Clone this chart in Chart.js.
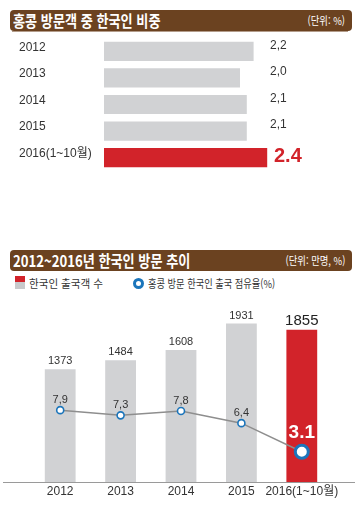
<!DOCTYPE html>
<html lang="ko">
<head>
<meta charset="utf-8">
<script src="https://cdn.jsdelivr.net/npm/chart.js@4.4.0/dist/chart.umd.min.js"></script>
<style>
  html, body { margin: 0; padding: 0; background: #fff; }
  #page { position: relative; width: 360px; height: 509px; overflow: hidden; font-family: "Noto Sans CJK KR", sans-serif; }
  .head { position: absolute; left: 10px; width: 342px; height: 21px; background: #6b4220; border-radius: 4px; color: #fff; }
  .head .t { position: absolute; left: 3px; top: 0; line-height: 21px; font-size: 16px; font-weight: bold; transform: scaleX(0.82); transform-origin: left center; white-space: nowrap; }
  .head .u { position: absolute; right: 7px; top: 0; line-height: 21px; font-size: 11px; transform: scaleX(0.85); transform-origin: right center; white-space: nowrap; }
  .rule { position: absolute; left: 12px; width: 336px; top: 31px; height: 1px; background: #b39c8a; }
  .sw { position: absolute; left: 15px; width: 10px; }
  .lg { position: absolute; top: 275px; line-height: 16px; font-size: 11px; color: #333; white-space: nowrap; transform-origin: left center; }
  .ring { position: absolute; left: 133px; top: 278px; width: 11px; height: 11px; box-sizing: border-box; border: 3px solid #1b75bb; border-radius: 50%; background: #fff; }
  canvas { position: absolute; left: 0; }
</style>
</head>
<body>
<div id="page">
  <div class="head" style="top:10px"><span class="t">홍콩 방문객 중 한국인 비중</span><span class="u">(단위: %)</span></div>
  <div class="rule"></div>
  <canvas id="shareChart" width="360" height="146" style="top:32px"></canvas>

  <div class="head" style="top:250px"><span class="t">2012~2016년 한국인 방문 추이</span><span class="u">(단위: 만명, %)</span></div>
  <div class="sw" style="top:276px;height:6px;background:#d2232a"></div>
  <div class="sw" style="top:282px;height:7px;background:#c8c9cb"></div>
  <div class="lg" style="left:29px;transform:scaleX(0.96)">한국인 출국객 수</div>
  <div class="ring"></div>
  <div class="lg" style="left:148px;transform:scaleX(0.84)">홍콩 방문 한국인 출국 점유율(%)</div>
  <canvas id="tripChart" width="360" height="217" style="top:292px"></canvas>
</div>
<script>
// top chart: share of Korean visitors among Hong Kong visitors (%)
const shareYears = ['2012', '2013', '2014', '2015', '2016(1~10월)'];
const shareValues = [2.2, 2.0, 2.1, 2.1, 2.4];

// bottom chart: Korean departures (10k persons) and HK share (%)
const tripYears = ['2012', '2013', '2014', '2015', '2016(1~10월)'];
const tripCounts = [1373, 1484, 1608, 1931, 1855];
const tripShare = [7.9, 7.3, 7.8, 6.4, 3.1];

const RED = '#d2232a';
const GREY = '#d1d2d4';
const NUM_FONT = "'Liberation Sans', 'Noto Sans CJK KR', sans-serif";

const colorsFor = (arr) => arr.map((v, i) => i === arr.length - 1 ? RED : GREY);

const shareLabels = {
    id: 'shareLabels',
    afterDatasetsDraw(chart) {
        const { ctx } = chart;
        const yScale = chart.scales.y;
        const last = shareValues.length - 1;
        ctx.save();
        ctx.textBaseline = 'middle';
        ctx.textAlign = 'left';
        shareYears.forEach((label, i) => {
            const y = yScale.getPixelForValue(i);
            ctx.fillStyle = '#333';
            ctx.font = `12px ${NUM_FONT}`;
            ctx.fillText(label, 19, y - 4);
            if (i === last) {
                ctx.fillStyle = RED;
                ctx.font = `bold 20px ${NUM_FONT}`;
                ctx.fillText(shareValues[i].toFixed(1), 274, y - 1);
            } else {
                ctx.fillText(shareValues[i].toFixed(1).replace('.', ','), 270, y - 6);
            }
        });
        ctx.restore();
    }
};

new Chart(document.getElementById('shareChart'), {
    type: 'bar',
    data: {
        labels: shareYears,
        datasets: [{
            data: shareValues,
            backgroundColor: colorsFor(shareValues),
            barPercentage: 0.72,
            categoryPercentage: 1
        }]
    },
    options: {
        indexAxis: 'y',
        responsive: false,
        animation: false,
        layout: { padding: { left: 104, right: 18, top: 6, bottom: 7 } },
        scales: {
            x: { display: false, min: 0, max: 3.5 },
            y: { display: false }
        },
        plugins: { legend: { display: false }, tooltip: { enabled: false } }
    },
    plugins: [shareLabels]
});

const tripLabels = {
    id: 'tripLabels',
    afterDatasetsDraw(chart) {
        const { ctx, chartArea } = chart;
        const bars = chart.getDatasetMeta(0).data;
        const points = chart.getDatasetMeta(1).data;
        const last = tripCounts.length - 1;
        ctx.save();

        // base line
        ctx.strokeStyle = '#9a9a9a';
        ctx.lineWidth = 1;
        ctx.beginPath();
        ctx.moveTo(3, Math.round(chartArea.bottom) + 0.5);
        ctx.lineTo(355, Math.round(chartArea.bottom) + 0.5);
        ctx.stroke();

        ctx.textAlign = 'center';
        ctx.textBaseline = 'alphabetic';
        bars.forEach((bar, i) => {
            ctx.fillStyle = i === last ? '#222' : '#333';
            ctx.font = i === last ? `15px ${NUM_FONT}` : `11px ${NUM_FONT}`;
            ctx.fillText(String(tripCounts[i]), bar.x, bar.y - 5);
        });

        points.forEach((pt, i) => {
            if (i === last) {
                ctx.fillStyle = '#fff';
                ctx.font = `bold 19px ${NUM_FONT}`;
                ctx.fillText(tripShare[i].toFixed(1), pt.x, pt.y - 14);
            } else {
                ctx.fillStyle = '#333';
                ctx.font = `11px ${NUM_FONT}`;
                ctx.fillText(tripShare[i].toFixed(1).replace('.', ','), pt.x, pt.y - 7);
            }
        });

        ctx.textBaseline = 'middle';
        ctx.fillStyle = '#333';
        ctx.font = `12px ${NUM_FONT}`;
        const xScale = chart.scales.x;
        tripYears.forEach((label, i) => {
            ctx.fillText(label, xScale.getPixelForValue(i), chartArea.bottom + 10);
        });
        ctx.restore();
    }
};

new Chart(document.getElementById('tripChart'), {
    type: 'bar',
    data: {
        labels: tripYears,
        datasets: [{
            type: 'bar',
            data: tripCounts,
            yAxisID: 'y',
            backgroundColor: colorsFor(tripCounts),
            barPercentage: 0.51,
            categoryPercentage: 1,
            order: 2
        }, {
            type: 'line',
            data: tripShare,
            yAxisID: 'y2',
            borderColor: '#8e8e8e',
            borderWidth: 1.5,
            tension: 0,
            pointRadius: [3.5, 3.5, 3.5, 3.5, 6.5],
            pointBorderWidth: [1.6, 1.6, 1.6, 1.6, 3],
            pointBackgroundColor: '#fff',
            pointBorderColor: '#1b75bb',
            clip: false,
            order: 1
        }]
    },
    options: {
        responsive: false,
        animation: false,
        layout: { padding: { left: 30, right: 28, top: 9, bottom: 27 } },
        scales: {
            x: { display: false },
            y: { display: false, min: 0, max: 2200 },
            y2: { display: false, min: -0.39, max: 20.44 }
        },
        plugins: { legend: { display: false }, tooltip: { enabled: false } }
    },
    plugins: [tripLabels]
});
</script>
</body>
</html>
